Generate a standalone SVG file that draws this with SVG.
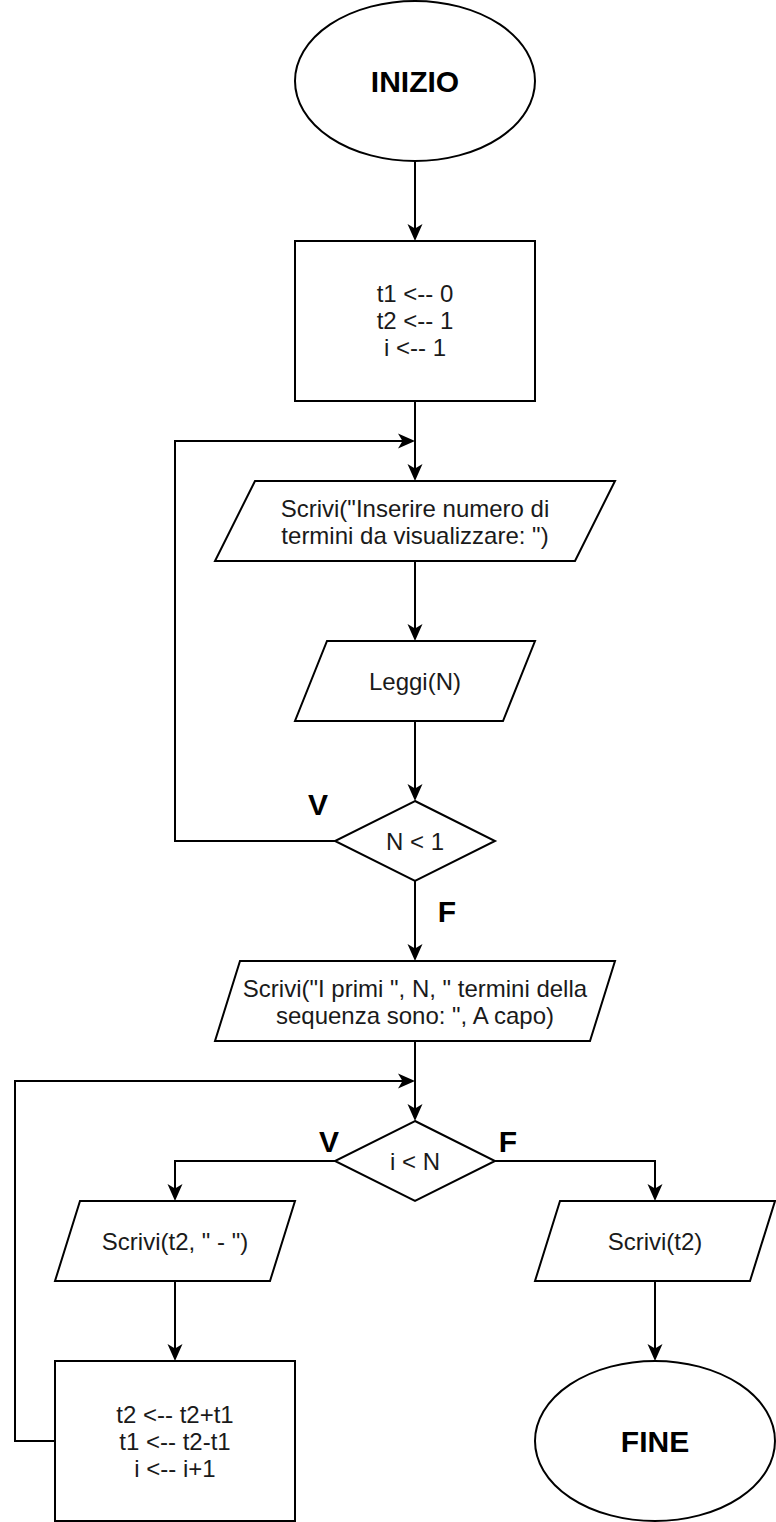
<svg xmlns="http://www.w3.org/2000/svg" width="776" height="1522" viewBox="0 0 776 1522">
<style>
.s{fill:#fff;stroke:#000;stroke-width:2}
.c{fill:none;stroke:#000;stroke-width:2}
.t{font-family:"Liberation Sans",Arial,sans-serif;font-size:24px;fill:#1a1a1a;text-anchor:middle}
.b{font-family:"Liberation Sans",Arial,sans-serif;font-size:30px;font-weight:bold;fill:#000;text-anchor:middle}
</style>
<defs>
<marker id="arr" markerUnits="userSpaceOnUse" markerWidth="18" markerHeight="16" viewBox="0 0 18 16" refX="13" refY="8" orient="auto">
<path d="M0,0.5 L17,8 L0,15.5 L4.5,8 Z" fill="#000"/>
</marker>
</defs>
<rect width="776" height="1522" fill="#fff"/>
<g id="connectors">
<path class="c" d="M415,161 V237" marker-end="url(#arr)"/>
<path class="c" d="M415,401 V477" marker-end="url(#arr)"/>
<path class="c" d="M415,561 V637" marker-end="url(#arr)"/>
<path class="c" d="M415,721 V797" marker-end="url(#arr)"/>
<path class="c" d="M335,841 H175 V441 H411" marker-end="url(#arr)"/>
<path class="c" d="M415,881 V957" marker-end="url(#arr)"/>
<path class="c" d="M415,1041 V1117" marker-end="url(#arr)"/>
<path class="c" d="M335,1161 H175 V1197" marker-end="url(#arr)"/>
<path class="c" d="M495,1161 H655 V1197" marker-end="url(#arr)"/>
<path class="c" d="M175,1281 V1357" marker-end="url(#arr)"/>
<path class="c" d="M55,1441 H15 V1081 H411" marker-end="url(#arr)"/>
<path class="c" d="M655,1281 V1357" marker-end="url(#arr)"/>
</g>
<g id="inizio">
<ellipse class="s" cx="415" cy="81" rx="120" ry="80"/>
<text class="b" x="415" y="92">INIZIO</text>
</g>
<g id="init">
<rect class="s" x="295" y="241" width="240" height="160"/>
<text class="t" x="415" y="302">t1 &lt;-- 0</text>
<text class="t" x="415" y="329">t2 &lt;-- 1</text>
<text class="t" x="415" y="356">i &lt;-- 1</text>
</g>
<g id="scrivi1">
<polygon class="s" points="255,481 615,481 575,561 215,561"/>
<text class="t" x="415" y="516.5">Scrivi("Inserire numero di</text>
<text class="t" x="415" y="543.5">termini da visualizzare: ")</text>
</g>
<g id="leggi">
<polygon class="s" points="327,641 535,641 503,721 295,721"/>
<text class="t" x="415" y="689.5">Leggi(N)</text>
</g>
<g id="cond1">
<polygon class="s" points="415,801 495,841 415,881 335,841"/>
<text class="t" x="415" y="849.5">N &lt; 1</text>
</g>
<g id="label-v1"><text class="b" x="318" y="815">V</text></g>
<g id="label-f1"><text class="b" x="447" y="922">F</text></g>
<g id="scrivi2">
<polygon class="s" points="240,961 615,961 590,1041 215,1041"/>
<text class="t" x="415" y="996.5">Scrivi("I primi ", N, " termini della</text>
<text class="t" x="415" y="1023.5">sequenza sono: ", A capo)</text>
</g>
<g id="cond2">
<polygon class="s" points="415,1121 495,1161 415,1201 335,1161"/>
<text class="t" x="415" y="1169.5">i &lt; N</text>
</g>
<g id="label-v2"><text class="b" x="329" y="1152">V</text></g>
<g id="label-f2"><text class="b" x="508" y="1152">F</text></g>
<g id="scrivi3">
<polygon class="s" points="80,1201 295,1201 270,1281 55,1281"/>
<text class="t" x="175" y="1249.5">Scrivi(t2, " - ")</text>
</g>
<g id="update">
<rect class="s" x="55" y="1361" width="240" height="160"/>
<text class="t" x="175" y="1422.5">t2 &lt;-- t2+t1</text>
<text class="t" x="175" y="1449.5">t1 &lt;-- t2-t1</text>
<text class="t" x="175" y="1476.5">i &lt;-- i+1</text>
</g>
<g id="scrivi4">
<polygon class="s" points="560,1201 775,1201 750,1281 535,1281"/>
<text class="t" x="655" y="1249.5">Scrivi(t2)</text>
</g>
<g id="fine">
<ellipse class="s" cx="655" cy="1441" rx="120" ry="80"/>
<text class="b" x="655" y="1452">FINE</text>
</g>
</svg>
